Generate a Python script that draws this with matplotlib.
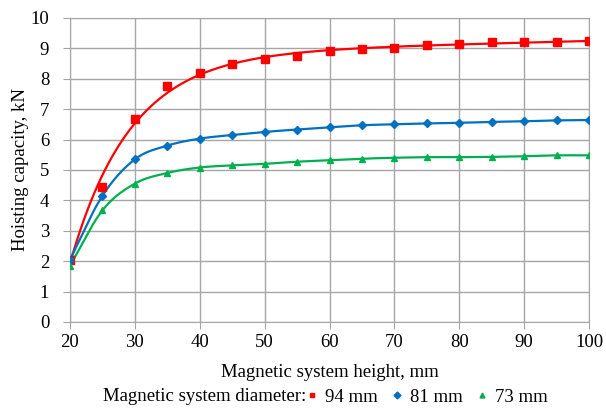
import matplotlib.pyplot as plt
import numpy as np
from matplotlib.lines import Line2D

# data
height_mm = [20, 25, 30, 35, 40, 45, 50, 55, 60, 65, 70, 75, 80, 85, 90, 95, 100]
d94 = [2.05, 4.45, 6.68, 7.76, 8.2, 8.48, 8.65, 8.75, 8.9, 8.97, 9.02, 9.1, 9.15, 9.2, 9.2, 9.22, 9.25]
d81 = [2.05, 4.15, 5.35, 5.8, 6.03, 6.15, 6.25, 6.33, 6.4, 6.47, 6.5, 6.53, 6.55, 6.58, 6.6, 6.63, 6.64]
d73 = [1.85, 3.67, 4.55, 4.9, 5.08, 5.15, 5.2, 5.27, 5.32, 5.37, 5.4, 5.42, 5.42, 5.43, 5.45, 5.48, 5.48]
labels = ["94 mm", "81 mm", "73 mm"]
colors = ["#ff0000", "#0070c0", "#00b050"]
markers = ["s", "D", "^"]


def smooth(x, y, n=20):
    # catmull-rom style smoothing like excel's smoothed line
    x = np.asarray(x, float)
    y = np.asarray(y, float)
    px = np.concatenate([[2 * x[0] - x[1]], x, [2 * x[-1] - x[-2]]])
    py = np.concatenate([[2 * y[0] - y[1]], y, [2 * y[-1] - y[-2]]])
    xs, ys = [], []
    t = np.linspace(0, 1, n, endpoint=False)
    for i in range(1, len(px) - 2):
        for arr, out in ((px, xs), (py, ys)):
            p0, p1, p2, p3 = arr[i - 1], arr[i], arr[i + 1], arr[i + 2]
            out.extend(0.5 * (2 * p1 + (-p0 + p2) * t + (2 * p0 - 5 * p1 + 4 * p2 - p3) * t ** 2
                              + (-p0 + 3 * p1 - 3 * p2 + p3) * t ** 3))
    xs.append(x[-1])
    ys.append(y[-1])
    return np.array(xs), np.array(ys)


def exp_fit(x, y):
    # y = a + c*x - b*exp(-k*(x-20)), least squares over a grid of k
    x = np.asarray(x, float)
    y = np.asarray(y, float)
    best = None
    for k in np.linspace(0.02, 0.3, 500):
        A = np.column_stack([np.ones_like(x), x, -np.exp(-k * (x - x[0]))])
        coef, *_ = np.linalg.lstsq(A, y, rcond=None)
        err = np.sum((A @ coef - y) ** 2)
        if best is None or err < best[0]:
            best = (err, k, coef)
    _, k, (a, c, b) = best
    xs = np.linspace(x[0], x[-1], 300)
    return xs, a + c * xs - b * np.exp(-k * (xs - x[0]))


plt.rcParams['font.family'] = ['Liberation Serif', 'DejaVu Serif']
fs = 13.5

fig = plt.figure(figsize=(6.06, 4.08), dpi=100)
ax = fig.add_axes([0.1155, 0.211, 0.8565, 0.745])

series = [d94, d81, d73]
for i, ys in enumerate(series):
    if i == 0:
        lx, ly = exp_fit(height_mm, ys)
    else:
        lx, ly = smooth(height_mm, ys)
    ax.plot(lx, ly, color=colors[i], lw=1.6, zorder=3)
    ms = 5.5 if markers[i] == "s" else 4.5
    ax.plot(height_mm, ys, ls='none', marker=markers[i], color=colors[i], ms=ms, zorder=4)

ax.set_xlim(20, 100)
ax.set_ylim(0, 10)
ax.set_xticks(range(20, 101, 10))
ax.set_yticks(range(0, 11))
ax.grid(True, color='#a6a6a6', lw=1)
for s in ax.spines.values():
    s.set_color('#a6a6a6')
ax.tick_params(color='#a6a6a6', length=5, labelsize=fs)
ax.tick_params(axis='y', pad=10)
ax.tick_params(axis='x', pad=4)
ax.set_xlabel("Magnetic system height, mm", fontsize=fs, labelpad=9)
ax.set_ylabel("Hoisting capacity, kN", fontsize=fs, labelpad=1)

fig.text(0.506, 0.027, "Magnetic system diameter:", ha='right', va='center', fontsize=fs)
handles = [Line2D([], [], ls='none', marker=m, color=c, ms=3.5) for m, c in zip(markers, colors)]
fig.legend(handles, labels, loc='center left', bbox_to_anchor=(0.503, 0.027), ncol=3,
           frameon=False, handlelength=0.8, handletextpad=0.3, columnspacing=0.6,
           borderpad=0, borderaxespad=0, fontsize=fs)

fig.savefig("out.png", dpi=100)
